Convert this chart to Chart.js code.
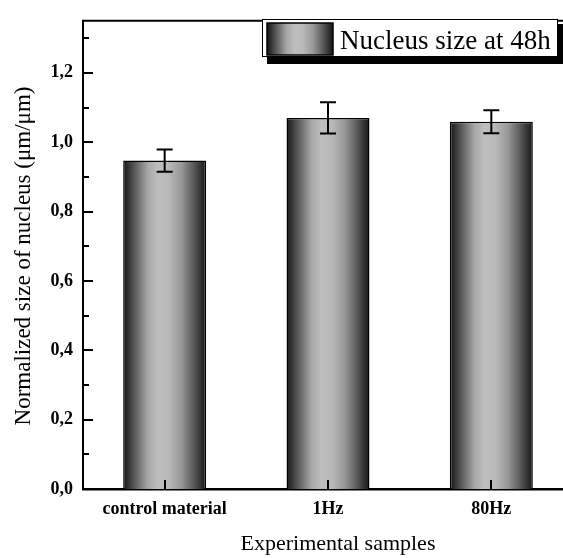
<!DOCTYPE html>
<html>
<head>
<meta charset="utf-8">
<title>Nucleus size at 48h</title>
<script src="https://cdn.jsdelivr.net/npm/chart.js@4.4.1/dist/chart.umd.min.js"></script>
<style>
    html, body { margin: 0; padding: 0; background: #fff; overflow: hidden; }
    #wrap { width: 580px; height: 558px; }
</style>
</head>
<body>
<div id="wrap"><canvas id="nucleusChart" width="580" height="558"></canvas></div>
<script>
// datos
const samples = ['control material', '1Hz', '80Hz'];
const nucleusSize = [0.947, 1.070, 1.059];
const nucleusErr = [0.032, 0.045, 0.033];
const seriesLabel = 'Nucleus size at 48h';
const yTicks = [0, 0.2, 0.4, 0.6, 0.8, 1.0, 1.2];
const yMinorTicks = [0.1, 0.3, 0.5, 0.7, 0.9, 1.1, 1.3];
const xTitle = 'Experimental samples';
const yTitle = 'Normalized size of nucleus (μm/μm)';

const SERIF = '"Liberation Serif", "DejaVu Serif", serif';
const BAR_FRAC = 0.508;

function barGradient(ctx, x0, x1) {
    const g = ctx.createLinearGradient(x0, 0, x1, 0);
    g.addColorStop(0, '#151515');
    g.addColorStop(0.12, '#505050');
    g.addColorStop(0.3, '#a8a8a8');
    g.addColorStop(0.42, '#bebebe');
    g.addColorStop(0.55, '#b8b8b8');
    g.addColorStop(0.7, '#989898');
    g.addColorStop(0.86, '#555555');
    g.addColorStop(1, '#151515');
    return g;
}

// barras de error
const errorBars = {
    id: 'errorBars',
    afterDatasetsDraw(chart) {
        const { ctx, scales: { x, y } } = chart;
        ctx.save();
        ctx.strokeStyle = '#000';
        ctx.lineWidth = 2;
        nucleusSize.forEach((v, i) => {
            const cx = x.getPixelForValue(i);
            const top = y.getPixelForValue(v + nucleusErr[i]);
            const bot = y.getPixelForValue(v - nucleusErr[i]);
            ctx.beginPath();
            ctx.moveTo(cx, top); ctx.lineTo(cx, bot);
            ctx.moveTo(cx - 8, top); ctx.lineTo(cx + 8, top);
            ctx.moveTo(cx - 8, bot); ctx.lineTo(cx + 8, bot);
            ctx.stroke();
        });
        ctx.restore();
    }
};

// marco superior y ticks hacia adentro
const frameTicks = {
    id: 'frameTicks',
    afterDatasetsDraw(chart) {
        const { ctx, chartArea: a, scales: { x, y } } = chart;
        ctx.save();
        ctx.strokeStyle = '#000';
        ctx.lineWidth = 2;
        ctx.beginPath();
        ctx.moveTo(a.left - 1, a.top); ctx.lineTo(a.right + 1, a.top);
        yTicks.forEach(v => {
            const py = Math.round(y.getPixelForValue(v));
            ctx.moveTo(a.left, py); ctx.lineTo(a.left + 10, py);
        });
        yMinorTicks.forEach(v => {
            const py = Math.round(y.getPixelForValue(v));
            ctx.moveTo(a.left, py); ctx.lineTo(a.left + 6, py);
        });
        samples.forEach((s, i) => {
            const px = Math.round(x.getPixelForValue(i));
            ctx.moveTo(px, a.bottom); ctx.lineTo(px, a.bottom - 9);
        });
        ctx.stroke();
        ctx.restore();
    }
};

// titulos y leyenda
const titlesLegend = {
    id: 'titlesLegend',
    afterDraw(chart) {
        const { ctx } = chart;
        ctx.save();
        ctx.fillStyle = '#000';
        ctx.font = '22px ' + SERIF;
        ctx.textAlign = 'center';
        ctx.textBaseline = 'middle';
        ctx.fillText(xTitle, 338, 544);

        ctx.font = '23px ' + SERIF;
        ctx.translate(24, 256);
        ctx.rotate(-Math.PI / 2);
        ctx.fillText(yTitle, 0, 0);
        ctx.setTransform(1, 0, 0, 1, 0, 0);

        // leyenda con sombra
        ctx.fillStyle = '#000';
        ctx.fillRect(267, 24, 296, 40);
        ctx.fillStyle = '#fff';
        ctx.fillRect(262, 19, 296, 38);
        ctx.strokeStyle = '#000';
        ctx.lineWidth = 1;
        ctx.strokeRect(262.5, 19.5, 295, 37);

        ctx.fillStyle = barGradient(ctx, 267, 333);
        ctx.fillRect(267, 23, 66, 32);
        ctx.lineWidth = 1.5;
        ctx.strokeRect(267, 23, 66, 32);

        ctx.fillStyle = '#000';
        ctx.font = '27px ' + SERIF;
        ctx.textAlign = 'left';
        ctx.textBaseline = 'alphabetic';
        ctx.fillText(seriesLabel, 340, 49);
        ctx.restore();
    }
};

const ctx = document.getElementById('nucleusChart').getContext('2d');

const nucleusChart = new Chart(ctx, {
    type: 'bar',
    data: {
        labels: samples,
        datasets: [{
            label: seriesLabel,
            data: nucleusSize,
            backgroundColor: function(context) {
                const chart = context.chart;
                const xs = chart.scales.x;
                if (!chart.chartArea || !xs) return '#999';
                const c = xs.getPixelForValue(context.dataIndex);
                const half = xs.width / samples.length * BAR_FRAC / 2;
                return barGradient(chart.ctx, c - half, c + half);
            },
            borderColor: '#000',
            borderWidth: 1.5,
            barPercentage: BAR_FRAC,
            categoryPercentage: 1
        }]
    },
    options: {
        responsive: false,
        animation: false,
        layout: { padding: { top: 11, right: 7, left: 0, bottom: 0 } },
        plugins: {
            legend: { display: false },
            tooltip: { enabled: false }
        },
        scales: {
            x: {
                offset: true,
                grid: { display: false, drawTicks: false },
                border: { display: true, color: '#000', width: 2.5 },
                ticks: {
                    color: '#000',
                    padding: 10,
                    maxRotation: 0,
                    font: { family: SERIF, size: 18, weight: 'bold' }
                },
                afterFit: s => { s.height = 69; }
            },
            y: {
                min: 0,
                max: 1.35,
                grid: { display: false, drawTicks: false },
                border: { display: true, color: '#000', width: 2 },
                ticks: {
                    color: '#000',
                    padding: 10,
                    font: { family: SERIF, size: 18, weight: 'bold' },
                    callback: v => v.toFixed(1).replace('.', ',')
                },
                afterBuildTicks: s => { s.ticks = yTicks.map(v => ({ value: v })); },
                afterFit: s => { s.width = 83; }
            }
        }
    },
    plugins: [errorBars, frameTicks, titlesLegend]
});
</script>
</body>
</html>
